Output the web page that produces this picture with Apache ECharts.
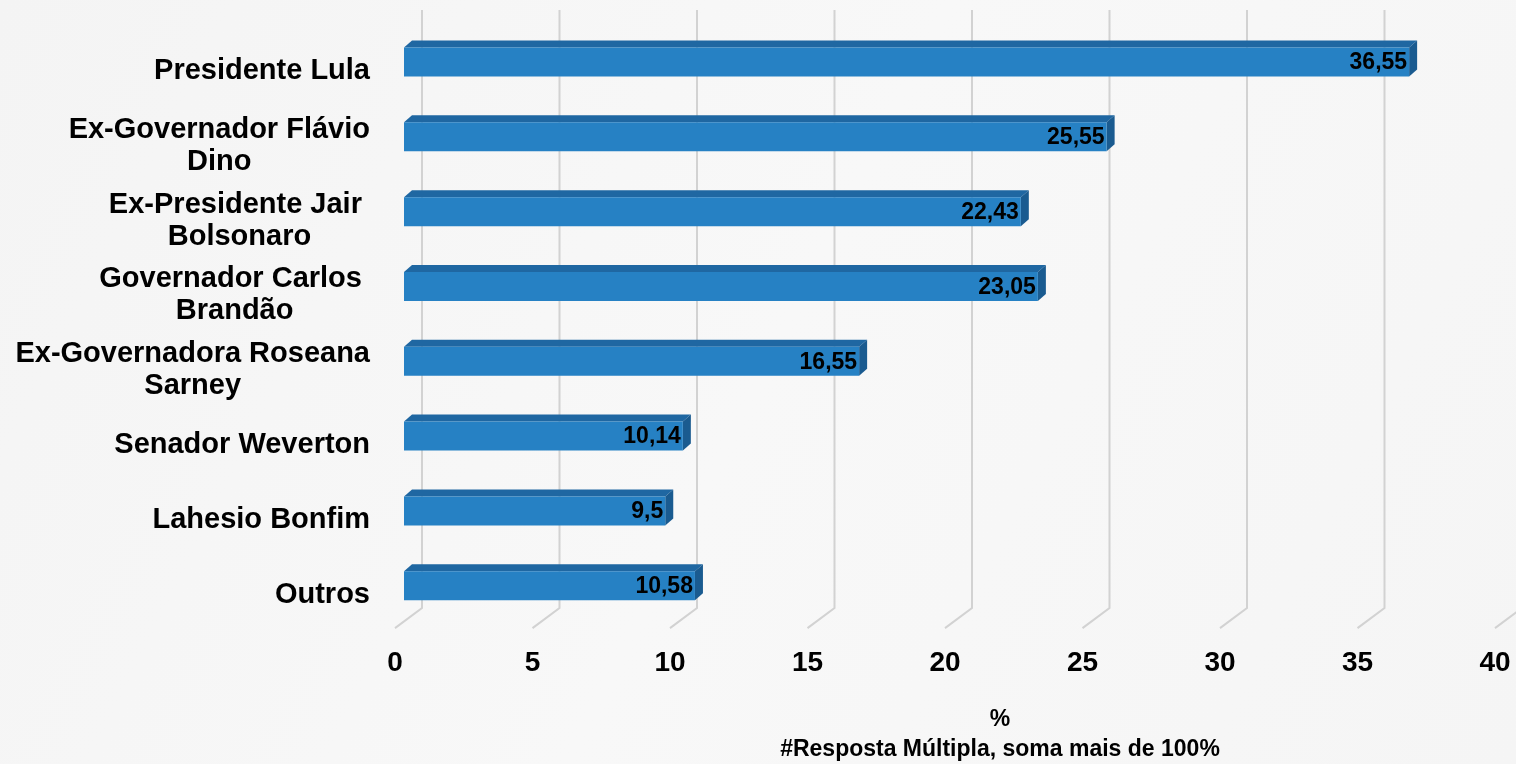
<!DOCTYPE html>
<html>
<head>
<meta charset="utf-8">
<script src="https://cdn.jsdelivr.net/npm/echarts@6/dist/echarts.min.js"></script>
<style>
html,body{margin:0;padding:0;background:#f6f6f6;}
#chart{width:1516px;height:764px;}
</style>
</head>
<body>
<div id="chart"></div>
<script>
const categories = [
  'Presidente Lula',
  'Ex-Governador Flávio\nDino',
  'Ex-Presidente Jair \nBolsonaro',
  'Governador Carlos \nBrandão',
  'Ex-Governadora Roseana\nSarney',
  'Senador Weverton',
  'Lahesio Bonfim',
  'Outros'
];
const values = [36.55, 25.55, 22.43, 23.05, 16.55, 10.14, 9.5, 10.58];
const tickValues = [0, 5, 10, 15, 20, 25, 30, 35, 40];
const axisTitle = '%\n#Resposta Múltipla, soma mais de 100%';

const FONT = '"Liberation Sans", Arial, sans-serif';
const FRONT = '#2681c4', TOP = '#1f67a2', SIDE = '#1a5b90';
const DX = 8, DY = -7, BAR_H = 29, BAR_SHIFT = -6;

const chart = echarts.init(document.getElementById('chart'));

const barData = values.map((v, i) => [v, i]);
const gridData = tickValues.map(v => [v, 0]);

chart.setOption({
  backgroundColor: {
    type: 'linear', x: 0, y: 0, x2: 1, y2: 1,
    colorStops: [{offset: 0, color: '#f4f4f4'}, {offset: 0.5, color: '#f8f8f8'}, {offset: 1, color: '#f5f5f5'}]
  },
  animation: false,
  grid: {left: 404, right: 12, top: 30.6, bottom: 764 - 629.1, containLabel: false, outerBoundsMode: 'none'},
  xAxis: {
    type: 'value', min: 0, max: 40, interval: 5,
    axisLine: {show: false}, axisTick: {show: false}, splitLine: {show: false},
    axisLabel: {
      color: '#000', fontFamily: FONT, fontWeight: 'bold', fontSize: 28,
      margin: 20, padding: [0, 18, 0, 0]
    },
    name: axisTitle,
    nameLocation: 'middle',
    nameGap: 76,
    nameTextStyle: {
      color: '#000', fontFamily: FONT, fontWeight: 'bold', fontSize: 23,
      lineHeight: 30, align: 'center', padding: [0, 0, 0, 92]
    }
  },
  yAxis: {
    type: 'category', data: categories, inverse: true,
    axisLine: {show: false}, axisTick: {show: false}, splitLine: {show: false},
    axisLabel: {
      margin: 34,
      padding: [6, 0, 0, 0],
      formatter: function (s) {
        return s.split('\n').map(l => '{c|' + l + '}').join('\n');
      },
      rich: {
        c: {color: '#000', fontFamily: FONT, fontWeight: 'bold', fontSize: 29, lineHeight: 32, align: 'center'}
      }
    }
  },
  series: [
    {
      type: 'custom',
      clip: false,
      silent: true,
      z: 1,
      data: gridData,
      encode: {x: 0, y: 1},
      renderItem: function (params, api) {
        const x = api.coord([api.value(0), 0])[0];
        const cs = params.coordSys;
        const bottom = cs.y + cs.height;
        return {
          type: 'polyline',
          shape: {points: [[x + 18, 10], [x + 18, bottom - 21], [x - 9, bottom - 1]]},
          style: {stroke: '#d2d2d2', lineWidth: 2, fill: null}
        };
      }
    },
    {
      type: 'custom',
      clip: false,
      z: 2,
      data: barData,
      encode: {x: 0, y: 1},
      renderItem: function (params, api) {
        const val = api.value(0), cat = api.value(1);
        const p0 = api.coord([0, cat]);
        const p1 = api.coord([val, cat]);
        const cy = p0[1] + BAR_SHIFT;
        const x0 = p0[0], x1 = p1[0];
        const yt = cy - BAR_H / 2, yb = cy + BAR_H / 2;
        return {
          type: 'group',
          children: [
            {type: 'polygon', shape: {points: [[x0, yt], [x1, yt], [x1 + DX, yt + DY], [x0 + DX, yt + DY]]}, style: {fill: TOP}},
            {type: 'polygon', shape: {points: [[x1, yt], [x1 + DX, yt + DY], [x1 + DX, yb + DY], [x1, yb]]}, style: {fill: SIDE}},
            {type: 'rect', shape: {x: x0, y: yt, width: x1 - x0, height: BAR_H}, style: {fill: FRONT}},
            {type: 'text', x: x1 - 2, y: cy + 1, style: {
              text: String(val).replace('.', ','),
              fill: '#000', font: 'bold 23px ' + FONT, align: 'right', verticalAlign: 'middle'
            }}
          ]
        };
      }
    }
  ]
});
</script>
</body>
</html>
